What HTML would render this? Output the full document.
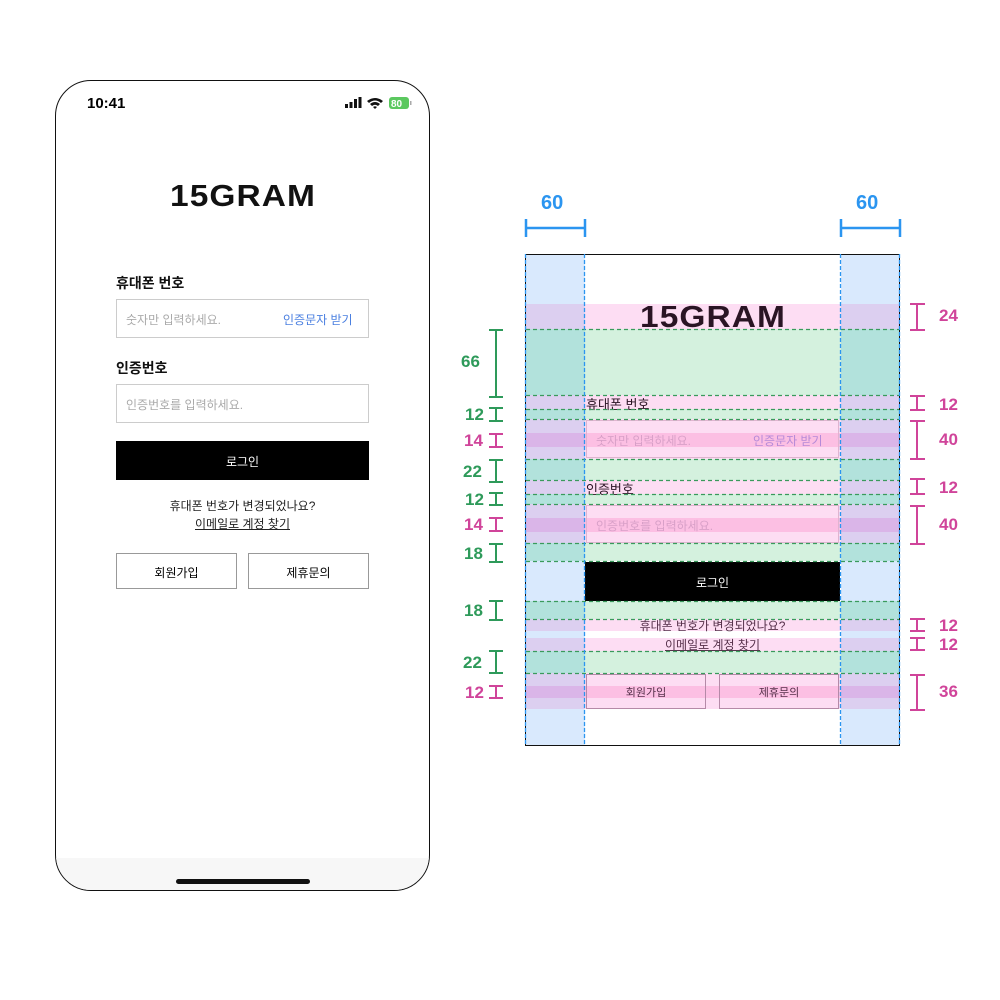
<!DOCTYPE html>
<html><head><meta charset="utf-8"><style>
body{margin:0;width:1000px;height:1000px;background:#fff;position:relative;overflow:hidden;font-family:"Liberation Sans","Noto Sans CJK KR",sans-serif;}
.a{position:absolute;box-sizing:border-box;}
.t{position:absolute;white-space:nowrap;}
.logo{font-family:"Liberation Sans",sans-serif;font-weight:bold;letter-spacing:1px;}
.g{color:#2e9a5a;font-weight:bold;font-size:17px;}
.p{color:#d0449a;font-weight:bold;font-size:17px;}
</style></head><body>

<!-- Phone -->
<div class="a" style="left:55px;top:80px;width:375px;height:811px;border:1.5px solid #111;border-radius:36px;overflow:hidden;background:#fff;">
  <div class="a" style="left:0;top:777px;width:375px;height:40px;background:#f7f7f7;"></div>
</div>
<div class="t" style="left:87px;top:95px;font-size:15px;font-weight:bold;">10:41</div>
<svg class="a" style="left:345px;top:96px" width="70" height="16">
 <rect x="0" y="8" width="3" height="4" fill="#111"/><rect x="4.5" y="6" width="3" height="6" fill="#111"/><rect x="9" y="3" width="3" height="9" fill="#111"/><rect x="13.5" y="1" width="3" height="11" fill="#111"/>
 <path d="M22 5 Q30 -1 38 5 L36 7 Q30 2 24 7Z M25 8 Q30 4 35 8 L33 10 Q30 7.5 27 10Z M28 11 L30 13 L32 11 Q30 9.5 28 11Z" fill="#111"/>
 <rect x="44" y="1" width="20" height="12" rx="3" fill="#5bc85f"/><rect x="65" y="5" width="1.5" height="4" fill="#aaa"/>
 <text x="46" y="11" font-size="10" font-weight="bold" fill="#fff" font-family="Liberation Sans">80</text>
</svg>
<div class="t logo" style="left:170px;top:178px;font-size:31px;color:#111;transform:scaleX(1.08);transform-origin:left;">15GRAM</div>
<div class="t" style="left:116px;top:273px;font-size:14px;font-weight:bold;color:#111;">휴대폰 번호</div>
<div class="a" style="left:116px;top:299px;width:253px;height:39px;border:1px solid #ccc;"></div>
<div class="t" style="left:126px;top:311px;font-size:12px;color:#aaa;">숫자만 입력하세요.</div>
<div class="t" style="left:283px;top:311px;font-size:12px;color:#4a7fe0;">인증문자 받기</div>
<div class="t" style="left:116px;top:358px;font-size:14px;font-weight:bold;color:#111;">인증번호</div>
<div class="a" style="left:116px;top:384px;width:253px;height:39px;border:1px solid #ccc;"></div>
<div class="t" style="left:126px;top:396px;font-size:12px;color:#aaa;">인증번호를 입력하세요.</div>
<div class="a" style="left:116px;top:441px;width:253px;height:39px;background:#000;"></div>
<div class="t" style="left:116px;top:453px;width:253px;text-align:center;font-size:12px;color:#fff;">로그인</div>
<div class="t" style="left:116px;top:497px;width:253px;text-align:center;font-size:12px;color:#222;">휴대폰 번호가 변경되었나요?</div>
<div class="t" style="left:116px;top:515px;width:253px;text-align:center;font-size:12px;color:#222;text-decoration:underline;">이메일로 계정 찾기</div>
<div class="a" style="left:116px;top:553px;width:121px;height:36px;border:1px solid #999;"></div>
<div class="t" style="left:116px;top:564px;width:121px;text-align:center;font-size:12px;">회원가입</div>
<div class="a" style="left:248px;top:553px;width:121px;height:36px;border:1px solid #999;"></div>
<div class="t" style="left:248px;top:564px;width:121px;text-align:center;font-size:12px;">제휴문의</div>
<div class="a" style="left:176px;top:879px;width:134px;height:5px;border-radius:3px;background:#111;"></div>

<!-- Spec frame -->
<div class="a" style="left:525px;top:254px;width:375px;height:492px;border:1px solid #111;background:#fff;"></div>
<svg class="a" style="left:0;top:0" width="1000" height="1000">
 <!-- side base -->
 <rect x="526" y="255" width="59" height="490" fill="#d9e9fd"/>
 <rect x="841" y="255" width="58" height="490" fill="#d9e9fd"/>
 <!-- pink rows: center + sides -->
 <g fill="#fdddf3">
  <rect x="585" y="304" width="256" height="25"/><rect x="585" y="395" width="256" height="14"/>
  <rect x="585" y="419" width="256" height="40"/><rect x="585" y="480" width="256" height="14"/>
  <rect x="585" y="504" width="256" height="39"/><rect x="585" y="619" width="256" height="12"/>
  <rect x="585" y="638" width="256" height="13"/><rect x="585" y="673" width="256" height="36"/>
 </g>
 <g fill="#dccff0">
  <rect x="526" y="304" width="59" height="25"/><rect x="841" y="304" width="58" height="25"/>
  <rect x="526" y="395" width="59" height="14"/><rect x="841" y="395" width="58" height="14"/>
  <rect x="526" y="419" width="59" height="40"/><rect x="841" y="419" width="58" height="40"/>
  <rect x="526" y="480" width="59" height="14"/><rect x="841" y="480" width="58" height="14"/>
  <rect x="526" y="504" width="59" height="39"/><rect x="841" y="504" width="58" height="39"/>
  <rect x="526" y="619" width="59" height="12"/><rect x="841" y="619" width="58" height="12"/>
  <rect x="526" y="638" width="59" height="13"/><rect x="841" y="638" width="58" height="13"/>
  <rect x="526" y="673" width="59" height="36"/><rect x="841" y="673" width="58" height="36"/>
 </g>
 <g fill="#fcbfe3">
  <rect x="585" y="433" width="256" height="14"/><rect x="585" y="518" width="256" height="14"/><rect x="585" y="686" width="256" height="12"/>
 </g>
 <g fill="#dab5e8">
  <rect x="526" y="433" width="59" height="14"/><rect x="841" y="433" width="58" height="14"/>
  <rect x="526" y="518" width="59" height="14"/><rect x="841" y="518" width="58" height="14"/>
  <rect x="526" y="686" width="59" height="12"/><rect x="841" y="686" width="58" height="12"/>
 </g>
 <g fill="#d4f1de">
  <rect x="585" y="329" width="256" height="66"/><rect x="585" y="409" width="256" height="10"/>
  <rect x="585" y="459" width="256" height="21"/><rect x="585" y="494" width="256" height="10"/>
  <rect x="585" y="543" width="256" height="18"/><rect x="585" y="601" width="256" height="18"/>
  <rect x="585" y="651" width="256" height="22"/>
 </g>
 <g fill="#b2e2dc">
  <rect x="526" y="329" width="59" height="66"/><rect x="841" y="329" width="58" height="66"/>
  <rect x="526" y="409" width="59" height="10"/><rect x="841" y="409" width="58" height="10"/>
  <rect x="526" y="459" width="59" height="21"/><rect x="841" y="459" width="58" height="21"/>
  <rect x="526" y="494" width="59" height="10"/><rect x="841" y="494" width="58" height="10"/>
  <rect x="526" y="543" width="59" height="18"/><rect x="841" y="543" width="58" height="18"/>
  <rect x="526" y="601" width="59" height="18"/><rect x="841" y="601" width="58" height="18"/>
  <rect x="526" y="651" width="59" height="22"/><rect x="841" y="651" width="58" height="22"/>
 </g>
</svg>
<!-- content -->
<div class="t logo" style="left:640px;top:299px;font-size:31px;color:#2a1424;transform:scaleX(1.08);transform-origin:left;">15GRAM</div>
<div class="t" style="left:586px;top:394px;font-size:13px;color:#2a1424;">휴대폰 번호</div>
<div class="a" style="left:586px;top:420px;width:253px;height:38px;border:1px solid #e0b4d0;"></div>
<div class="t" style="left:596px;top:432px;font-size:12px;color:#d8a0c8;">숫자만 입력하세요.</div>
<div class="t" style="left:753px;top:432px;font-size:12px;color:#b58ad8;">인증문자 받기</div>
<div class="t" style="left:586px;top:479px;font-size:13px;color:#2a1424;">인증번호</div>
<div class="a" style="left:586px;top:505px;width:253px;height:38px;border:1px solid #e0b4d0;"></div>
<div class="t" style="left:596px;top:517px;font-size:12px;color:#d8a0c8;">인증번호를 입력하세요.</div>
<div class="a" style="left:585px;top:562px;width:255px;height:39px;background:#000;"></div>
<div class="t" style="left:585px;top:574px;width:255px;text-align:center;font-size:12px;color:#fff;">로그인</div>
<div class="t" style="left:585px;top:617px;width:255px;text-align:center;font-size:12px;color:#55304a;">휴대폰 번호가 변경되었나요?</div>
<div class="t" style="left:585px;top:636px;width:255px;text-align:center;font-size:12px;color:#55304a;text-decoration:underline;">이메일로 계정 찾기</div>
<div class="a" style="left:586px;top:674px;width:120px;height:35px;border:1px solid #b58aa8;"></div>
<div class="t" style="left:586px;top:684px;width:120px;text-align:center;font-size:11px;color:#55304a;">회원가입</div>
<div class="a" style="left:719px;top:674px;width:120px;height:35px;border:1px solid #b58aa8;"></div>
<div class="t" style="left:719px;top:684px;width:120px;text-align:center;font-size:11px;color:#55304a;">제휴문의</div>

<!-- lines & measures -->
<svg class="a" style="left:0;top:0" width="1000" height="1000">
 <g stroke="#3a9a5c" stroke-width="1.2" stroke-dasharray="4 3">
  <path d="M526 329.5H899 M526 395.5H899 M526 409.5H899 M526 419.5H899 M526 459.5H899 M526 480.5H899 M526 494.5H899 M526 504.5H899 M526 543.5H899 M526 561.5H899 M526 601.5H899 M526 619.5H899 M526 651.5H899 M526 673.5H899"/>
 </g>
 <g stroke="#2b95f0" stroke-width="1.3" stroke-dasharray="4 2">
  <path d="M525.5 254V746 M584.5 254V746 M840.5 254V746 M899.5 254V746"/>
 </g>
 <g stroke="#2b95f0" stroke-width="2.5" fill="none">
  <path d="M526 219V237 M585 219V237 M526 228H585"/>
  <path d="M841 219V237 M900 219V237 M841 228H900"/>
 </g>
 <g stroke="#2e9a5a" stroke-width="2" fill="none">
  <path d="M489 330H503 M489 397H503 M496 330V397"/>
  <path d="M489 408H503 M489 421H503 M496 408V421"/>
  <path d="M489 460H503 M489 482H503 M496 460V482"/>
  <path d="M489 493H503 M489 505H503 M496 493V505"/>
  <path d="M489 544H503 M489 562H503 M496 544V562"/>
  <path d="M489 601H503 M489 620H503 M496 601V620"/>
  <path d="M489 651H503 M489 673H503 M496 651V673"/>
 </g>
 <g stroke="#d0449a" stroke-width="2" fill="none">
  <path d="M489 434H503 M489 447H503 M496 434V447"/>
  <path d="M489 518H503 M489 531H503 M496 518V531"/>
  <path d="M489 686H503 M489 698H503 M496 686V698"/>
  <path d="M910 304H925 M910 330H925 M917 304V330"/>
  <path d="M910 396H925 M910 410H925 M917 396V410"/>
  <path d="M910 421H925 M910 459H925 M917 421V459"/>
  <path d="M910 479H925 M910 494H925 M917 479V494"/>
  <path d="M910 506H925 M910 544H925 M917 506V544"/>
  <path d="M910 619H925 M910 631H925 M917 619V631"/>
  <path d="M910 638H925 M910 650H925 M917 638V650"/>
  <path d="M910 675H925 M910 710H925 M917 675V710"/>
 </g>
</svg>
<div class="t" style="left:541px;top:192px;font-size:20px;font-weight:bold;color:#2b95f0;">60</div>
<div class="t" style="left:856px;top:192px;font-size:20px;font-weight:bold;color:#2b95f0;">60</div>
<div class="t g" style="left:461px;top:352px;">66</div>
<div class="t g" style="left:465px;top:405px;">12</div>
<div class="t p" style="left:464px;top:431px;">14</div>
<div class="t g" style="left:463px;top:462px;">22</div>
<div class="t g" style="left:465px;top:490px;">12</div>
<div class="t p" style="left:464px;top:515px;">14</div>
<div class="t g" style="left:464px;top:544px;">18</div>
<div class="t g" style="left:464px;top:601px;">18</div>
<div class="t g" style="left:463px;top:653px;">22</div>
<div class="t p" style="left:465px;top:683px;">12</div>
<div class="t p" style="left:939px;top:306px;">24</div>
<div class="t p" style="left:939px;top:395px;">12</div>
<div class="t p" style="left:939px;top:430px;">40</div>
<div class="t p" style="left:939px;top:478px;">12</div>
<div class="t p" style="left:939px;top:515px;">40</div>
<div class="t p" style="left:939px;top:616px;">12</div>
<div class="t p" style="left:939px;top:635px;">12</div>
<div class="t p" style="left:939px;top:682px;">36</div>
</body></html>
